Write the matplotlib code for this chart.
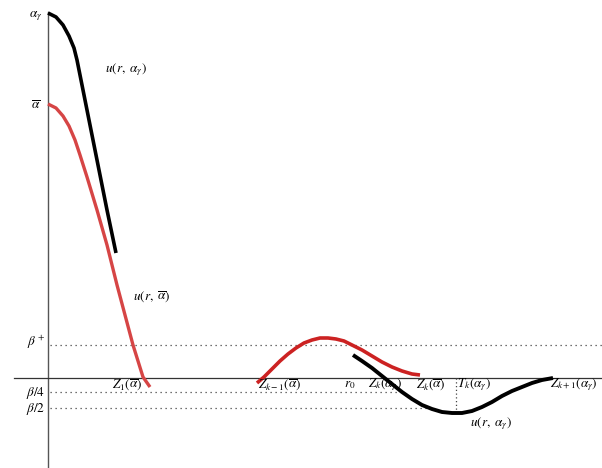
import matplotlib
matplotlib.use("Agg")
import matplotlib.pyplot as plt

plt.rcParams['mathtext.fontset'] = 'stix'
plt.rcParams['font.family'] = 'STIXGeneral'

# curves (x, y in picture units, y grows downward)
black1_x = [48, 56, 63, 69, 74, 77, 83, 89, 95, 101, 107, 116]
black1_y = [13, 17, 25, 36, 48, 60, 90, 120, 150, 180, 210, 253]

red1_x = [48, 56, 63, 69, 75, 80, 87, 97, 107, 117, 125, 133, 143, 150]
red1_y = [104, 108, 116, 126, 140, 155, 177, 210, 245, 285, 315, 345, 377, 387]

red2_x = [257, 264, 272, 280, 288, 296, 304, 312, 320, 328, 336, 344, 352, 362,
          372, 382, 392, 402, 412, 420]
red2_y = [383, 377, 369, 361, 354, 348, 343, 340, 338, 338, 339, 341, 345, 350,
          356, 362, 367, 371, 374, 375]

black2_x = [353, 362, 372, 382, 392, 402, 412, 422, 432, 442, 452, 462, 472, 482,
            492, 502, 512, 522, 532, 542, 553]
black2_y = [355, 361, 368, 376, 384, 392, 399, 405, 409, 412, 413, 413, 411, 407,
            402, 396, 391, 387, 383, 380, 378]

axis_y = 378
beta_plus_y = 345
beta4_y = 392
beta2_y = 408
tk_x = 456

left_labels = [r'$\alpha_\gamma$', r'$\overline{\alpha}$', r'$\beta^+$', r'$\beta/4$', r'$\beta/2$']
left_label_y = [16, 106, 342, 393, 409]

axis_labels = [r'$Z_1(\overline{\alpha})$', r'$Z_{k-1}(\overline{\alpha})$', r'$r_0$',
               r'$Z_k(\alpha_\gamma)$', r'$Z_k(\overline{\alpha})$', r'$T_k(\alpha_\gamma)$',
               r'$Z_{k+1}(\alpha_\gamma)$']
axis_label_x = [112, 258, 344, 368, 416, 457, 550]

fig = plt.figure(figsize=(6.02, 4.68), dpi=100)
ax = fig.add_axes([0, 0, 1, 1])
ax.set_xlim(0, 602)
ax.set_ylim(468, 0)
ax.axis('off')

# axes
ax.plot([48, 48], [12, 468], color='#555555', lw=1.0)
ax.plot([14, 602], [axis_y, axis_y], color='#333333', lw=0.9)

# dotted levels
ax.plot([50, 602], [beta_plus_y, beta_plus_y], ls=(0, (1, 3)), color='#444444', lw=0.9)
ax.plot([50, 400], [beta4_y, beta4_y], ls=(0, (1, 3)), color='#444444', lw=0.9)
ax.plot([50, 430], [beta2_y, beta2_y], ls=(0, (1, 3)), color='#444444', lw=0.9)
ax.plot([tk_x, tk_x], [axis_y, 413], ls=(0, (1, 2)), color='#444444', lw=0.9)

kw = dict(solid_capstyle='butt', solid_joinstyle='round')
ax.plot(black1_x, black1_y, color='black', lw=2.6, **kw)
ax.plot(red1_x, red1_y, color='#d64545', lw=2.4, **kw)
ax.plot(red2_x, red2_y, color='#cc2222', lw=2.6, **kw)
ax.plot(black2_x, black2_y, color='black', lw=2.8, **kw)

for lab, y in zip(left_labels, left_label_y):
    ax.text(36, y, lab, fontsize=9.5, ha='center', va='center')

for lab, x in zip(axis_labels, axis_label_x):
    ax.text(x, 385, lab, fontsize=9.5, ha='left', va='center')

ax.text(105, 70, r'$u\left(r,\ \alpha_\gamma\right)$', fontsize=9.5, va='center')
ax.text(133, 297, r'$u\left(r,\ \overline{\alpha}\right)$', fontsize=9.5, va='center')
ax.text(470, 424, r'$u\left(r,\ \alpha_\gamma\right)$', fontsize=9.5, va='center')

fig.savefig('out.png', dpi=100)
